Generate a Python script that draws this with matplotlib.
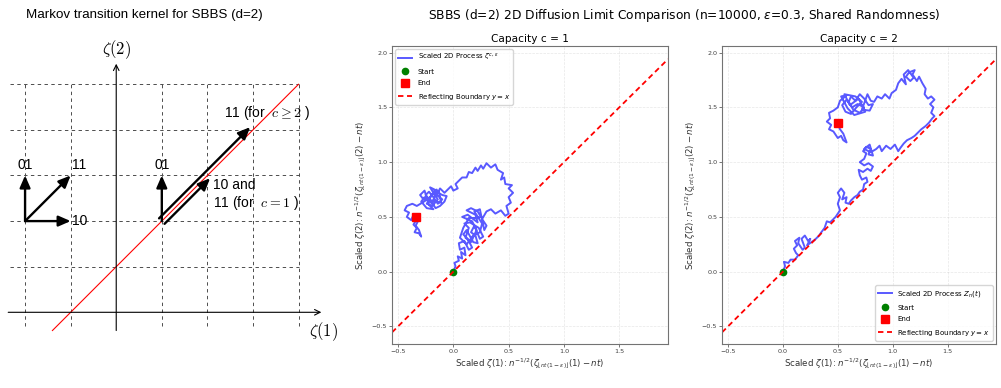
import numpy as np
import matplotlib.pyplot as plt

# ---- values ----

# scaled path, capacity c = 1 (x, y)
c1_path = [
    (0.00, 0.00), (0.02, 0.05), (0.01, 0.08), (0.05, 0.10), (0.04, 0.14), (0.08, 0.12),
    (0.07, 0.18), (0.11, 0.15), (0.10, 0.22), (0.06, 0.20), (0.05, 0.26), (0.10, 0.28),
    (0.14, 0.20), (0.17, 0.22), (0.13, 0.30), (0.09, 0.34), (0.12, 0.38), (0.18, 0.27),
    (0.22, 0.26), (0.20, 0.33), (0.16, 0.36), (0.19, 0.42), (0.24, 0.30), (0.27, 0.32),
    (0.23, 0.40), (0.15, 0.45), (0.10, 0.44), (0.14, 0.40), (0.11, 0.31), (0.16, 0.27),
    (0.21, 0.38), (0.17, 0.46), (0.08, 0.50), (0.13, 0.52), (0.18, 0.48), (0.22, 0.45),
    (0.20, 0.52), (0.12, 0.56), (0.16, 0.58), (0.22, 0.55), (0.25, 0.50), (0.21, 0.49),
    (0.14, 0.49), (0.09, 0.40), (0.06, 0.31), (0.12, 0.25), (0.18, 0.33), (0.24, 0.36),
    (0.26, 0.44), (0.19, 0.55), (0.24, 0.57), (0.28, 0.38),
    (0.30, 0.42), (0.26, 0.48), (0.30, 0.55), (0.34, 0.57), (0.38, 0.53), (0.43, 0.56),
    (0.47, 0.51), (0.50, 0.53),
    (0.48, 0.60), (0.52, 0.63), (0.50, 0.68), (0.54, 0.72), (0.50, 0.76), (0.53, 0.79),
    (0.47, 0.80), (0.46, 0.86), (0.43, 0.84), (0.45, 0.90),
    (0.40, 0.93), (0.38, 0.98), (0.34, 0.95), (0.30, 0.99), (0.27, 0.94), (0.25, 0.97),
    (0.22, 0.92), (0.20, 0.95), (0.17, 0.90), (0.14, 0.91), (0.12, 0.86), (0.08, 0.86),
    (0.05, 0.83), (0.02, 0.80), (0.04, 0.76), (0.00, 0.74), (-0.02, 0.78), (-0.05, 0.75),
    (-0.08, 0.72), (-0.12, 0.76), (-0.15, 0.70), (-0.10, 0.66), (-0.14, 0.62), (-0.18, 0.68),
    (-0.22, 0.73), (-0.25, 0.70), (-0.20, 0.64), (-0.16, 0.58), (-0.12, 0.60), (-0.08, 0.64),
    (-0.06, 0.69), (-0.10, 0.70), (-0.17, 0.74), (-0.20, 0.69), (-0.24, 0.62), (-0.19, 0.60),
    (-0.14, 0.66), (-0.18, 0.72), (-0.21, 0.77), (-0.13, 0.73), (-0.11, 0.63), (-0.16, 0.64),
    (-0.23, 0.66), (-0.15, 0.75), (-0.19, 0.62), (-0.26, 0.68), (-0.29, 0.64), (-0.24, 0.58),
    (-0.18, 0.57), (-0.22, 0.61), (-0.26, 0.74), (-0.30, 0.70), (-0.27, 0.66), (-0.22, 0.67),
    (-0.28, 0.63),
    (-0.33, 0.60), (-0.37, 0.62), (-0.42, 0.60), (-0.44, 0.56), (-0.40, 0.54), (-0.42, 0.50),
    (-0.38, 0.47), (-0.36, 0.52), (-0.33, 0.48), (-0.36, 0.43), (-0.33, 0.40), (-0.35, 0.36),
    (-0.31, 0.35), (-0.29, 0.32), (-0.31, 0.38), (-0.34, 0.42), (-0.32, 0.46), (-0.35, 0.50),
    (-0.34, 0.50),
]

# scaled path, capacity c = 2 (x, y)
c2_path = [
    (0.00, 0.00), (0.02, 0.05), (0.01, 0.09), (0.05, 0.08), (0.07, 0.11), (0.11, 0.11),
    (0.14, 0.15), (0.12, 0.17), (0.10, 0.21), (0.13, 0.24), (0.11, 0.28), (0.15, 0.31),
    (0.14, 0.26), (0.18, 0.20), (0.20, 0.22), (0.17, 0.30), (0.20, 0.33), (0.23, 0.28),
    (0.25, 0.30), (0.22, 0.24), (0.26, 0.27), (0.29, 0.29), (0.33, 0.33), (0.35, 0.36),
    (0.38, 0.40), (0.40, 0.46), (0.43, 0.45), (0.45, 0.47), (0.48, 0.50), (0.50, 0.53),
    (0.52, 0.56),
    (0.50, 0.62), (0.52, 0.68), (0.50, 0.72), (0.53, 0.76), (0.56, 0.72), (0.54, 0.66),
    (0.58, 0.68), (0.57, 0.63), (0.60, 0.62), (0.62, 0.65), (0.65, 0.68), (0.68, 0.70),
    (0.70, 0.73), (0.73, 0.75),
    (0.74, 0.80), (0.77, 0.82), (0.76, 0.86), (0.72, 0.84), (0.70, 0.88),
    (0.69, 0.93), (0.73, 0.91), (0.77, 0.94), (0.80, 0.92), (0.82, 0.96), (0.78, 0.99),
    (0.74, 0.97), (0.70, 1.00), (0.74, 1.03), (0.76, 1.08), (0.73, 1.10), (0.76, 1.14),
    (0.80, 1.12), (0.78, 1.07), (0.82, 1.06), (0.79, 1.16), (0.74, 1.12), (0.80, 1.09),
    (0.85, 1.12), (0.88, 1.15), (0.90, 1.10),
    (0.94, 1.15), (0.98, 1.12), (1.02, 1.16), (1.05, 1.10), (1.07, 1.13), (1.10, 1.17),
    (1.13, 1.20), (1.17, 1.22), (1.20, 1.24), (1.23, 1.27), (1.26, 1.30), (1.30, 1.33),
    (1.33, 1.36), (1.36, 1.40), (1.38, 1.42),
    (1.35, 1.45), (1.37, 1.50), (1.34, 1.53), (1.38, 1.57), (1.35, 1.60), (1.32, 1.58),
    (1.29, 1.62), (1.30, 1.67),
    (1.27, 1.72), (1.24, 1.78), (1.22, 1.74), (1.18, 1.80), (1.20, 1.84), (1.15, 1.82),
    (1.12, 1.78), (1.16, 1.74), (1.19, 1.77), (1.14, 1.84), (1.10, 1.80), (1.12, 1.71),
    (1.08, 1.76), (1.05, 1.72),
    (1.03, 1.66), (0.99, 1.63), (0.97, 1.58), (0.93, 1.62), (0.90, 1.58), (0.86, 1.60),
    (0.83, 1.55), (0.80, 1.56), (0.77, 1.62), (0.72, 1.48), (0.79, 1.47), (0.82, 1.53),
    (0.78, 1.52), (0.74, 1.58), (0.70, 1.62), (0.66, 1.56), (0.62, 1.60), (0.60, 1.55),
    (0.64, 1.48), (0.70, 1.45), (0.74, 1.50), (0.68, 1.53), (0.63, 1.50), (0.58, 1.57),
    (0.54, 1.52), (0.57, 1.46), (0.62, 1.44), (0.67, 1.50), (0.72, 1.55), (0.66, 1.60),
    (0.56, 1.62), (0.61, 1.52), (0.69, 1.58), (0.75, 1.46), (0.65, 1.43), (0.59, 1.49),
    (0.53, 1.60), (0.58, 1.61), (0.52, 1.56), (0.50, 1.50),
    (0.46, 1.47), (0.42, 1.45), (0.43, 1.40), (0.40, 1.37), (0.44, 1.34), (0.42, 1.30),
    (0.46, 1.28), (0.48, 1.25), (0.50, 1.22), (0.53, 1.24), (0.55, 1.20), (0.58, 1.18),
    (0.55, 1.26), (0.52, 1.30), (0.50, 1.35), (0.506, 1.354),
]

c1_start = (0.0, 0.0)
c1_end = (-0.34, 0.50)
c2_start = (0.0, 0.0)
c2_end = (0.506, 1.354)

x_ticks = [-0.5, 0.0, 0.5, 1.0, 1.5]
y_ticks = [-0.5, 0.0, 0.5, 1.0, 1.5, 2.0]
x_lim = (-0.554, 1.94)
y_lim = (-0.66, 2.06)

# transition kernel sketch (lattice units)
grid_x = [-2, -1, 1, 2, 3, 4]
grid_y = [1, 2, 3, 4, 5]
diag_x = [-1.4, 4.0]          # red line y = x + 1
left_moves = [((-2, 2), (-2, 3)), ((-2, 2), (-1, 3)), ((-2, 2), (-1, 2))]
right_moves = [((1, 2), (1, 3))]
long_diag = ((1, 2), (3, 4))
short_diag = ((1, 2), (2, 3))

fig = plt.figure(figsize=(10.01, 3.88), dpi=100)

# ---------------- left: the kernel sketch ----------------
axd = fig.add_axes([0, 0, 330 / 1001, 358 / 388])
axd.set_xlim(-2.55, 4.69)
axd.set_ylim(-1.66, 6.19)
axd.axis('off')

for gx in grid_x:
    axd.plot([gx, gx], [-0.3, 5], ls=(0, (3.5, 3.5)), color='0.3', lw=0.7)
for gy in grid_y:
    axd.plot([-2.33, 4.0], [gy, gy], ls=(0, (3.5, 3.5)), color='0.3', lw=0.7)

axd.annotate('', xy=(4.5, 0), xytext=(-2.37, 0),
             arrowprops=dict(arrowstyle='->', lw=0.8, color='k', shrinkA=0, shrinkB=0))
axd.annotate('', xy=(0, 5.45), xytext=(0, -0.4),
             arrowprops=dict(arrowstyle='->', lw=0.8, color='k', shrinkA=0, shrinkB=0))

axd.plot(diag_x, [v + 1 for v in diag_x], color='red', lw=0.8)

arrow_kw = dict(arrowstyle='-|>,head_length=0.8,head_width=0.35', lw=1.7, color='k',
                mutation_scale=9, shrinkA=0, shrinkB=0)
for (x0, y0), (x1, y1) in left_moves + right_moves:
    axd.annotate('', xy=(x1, y1), xytext=(x0, y0), arrowprops=arrow_kw)
off = 0.06
(x0, y0), (x1, y1) = long_diag
axd.annotate('', xy=(x1 - off, y1 + off), xytext=(x0 - off, y0 + off), arrowprops=arrow_kw)
(x0, y0), (x1, y1) = short_diag
axd.annotate('', xy=(x1 + off, y1 - off), xytext=(x0 + off, y0 - off), arrowprops=arrow_kw)

lab_kw = dict(fontsize=10, family='Liberation Sans', math_fontfamily='cm')
axd.text(-2.0, 3.08, '01', ha='center', va='bottom', **lab_kw)
axd.text(-0.98, 3.08, '11', ha='left', va='bottom', **lab_kw)
axd.text(-0.98, 2.0, '10', ha='left', va='center', **lab_kw)
axd.text(1.0, 3.08, '01', ha='center', va='bottom', **lab_kw)
axd.text(2.36, 4.37, r'11 (for  $c \geq 2$ )', ha='left', va='center', **lab_kw)
axd.text(2.12, 2.79, '10 and', ha='left', va='center', **lab_kw)
axd.text(2.12, 2.40, r'11 (for  $c = 1$ )', ha='left', va='center', **lab_kw)
axd.text(0.0, 5.75, r'$\zeta(2)$', ha='center', va='center', fontsize=12, math_fontfamily='cm')
axd.text(4.22, -0.42, r'$\zeta(1)$', ha='left', va='center', fontsize=12,
         math_fontfamily='cm', clip_on=False)

fig.text(26 / 1001, 1 - 15 / 388, 'Markov transition kernel for SBBS (d=2)',
         fontsize=9.6, family='Liberation Sans', va='center', ha='left')

# ---------------- right: diffusion limits ----------------
fig.text(684 / 1001, 1 - 16 / 388,
         r'SBBS (d=2) 2D Diffusion Limit Comparison (n=10000, $\varepsilon$=0.3, Shared Randomness)',
         fontsize=8.8, ha='center', va='center')

ax1 = fig.add_axes([392 / 1001, 44 / 388, 276 / 1001, 298 / 388])
ax2 = fig.add_axes([722 / 1001, 44 / 388, 274 / 1001, 298 / 388])

panels = [
    (ax1, c1_path, c1_start, c1_end, 'Capacity c = 1',
     r'Scaled 2D Process $\zeta^{c,\varepsilon}$', 'upper left'),
    (ax2, c2_path, c2_start, c2_end, 'Capacity c = 2',
     r'Scaled 2D Process $Z_n(t)$', 'lower right'),
]

for ax, path, start, end, title, plabel, loc in panels:
    px, py = np.array(path).T
    ax.plot(px, py, color='blue', alpha=0.65, lw=1.4, label=plabel)
    ax.plot(start[0], start[1], 'o', color='green', ms=4.5, label='Start')
    ax.plot(end[0], end[1], 's', color='red', ms=5.2, label='End')
    ax.plot(x_lim, x_lim, color='red', ls=(0, (3, 2)), lw=1.3,
            label=r'Reflecting Boundary $y = x$')
    ax.set_xlim(*x_lim)
    ax.set_ylim(*y_lim)
    ax.set_xticks(x_ticks)
    ax.set_yticks(y_ticks)
    ax.tick_params(labelsize=4.6, length=2, width=0.5, pad=1.5, colors='0.25')
    ax.grid(True, alpha=0.3, lw=0.5, ls='--')
    for sp in ax.spines.values():
        sp.set_color('0.45')
        sp.set_linewidth(0.8)
    ax.set_title(title, fontsize=7.6, pad=3)
    ax.set_xlabel(r'Scaled $\zeta(1)$: $n^{-1/2}(\zeta_{\lfloor nt(1-\varepsilon)\rfloor}(1) - nt)$',
                  fontsize=6.2, labelpad=2, color='0.2')
    ax.set_ylabel(r'Scaled $\zeta(2)$: $n^{-1/2}(\zeta_{\lfloor nt(1-\varepsilon)\rfloor}(2) - nt)$',
                  fontsize=6.2, labelpad=2, color='0.2')
    ax.legend(loc=loc, fontsize=5.0, labelspacing=0.8, borderaxespad=0.5,
              framealpha=0.8, edgecolor='0.8')

fig.savefig('out.png', dpi=100)
